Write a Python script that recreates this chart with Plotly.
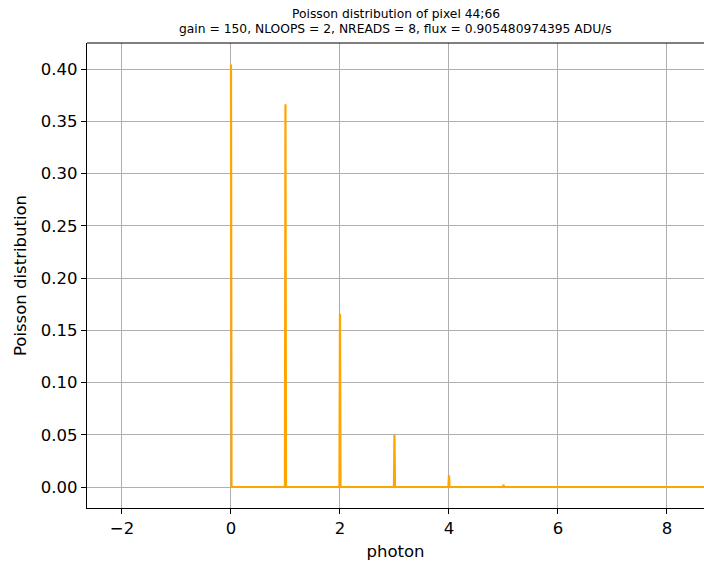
import plotly.graph_objects as go

# Poisson probabilities for each photon count (flux ~ 0.9055 ADU/s)
photons = [0, 1, 2, 3, 4, 5, 6, 7, 8, 9]
probability = [0.4044, 0.3662, 0.1658, 0.0500, 0.0113, 0.0021, 0.0003, 0.00004, 0.0, 0.0]

title_lines = [
    "Poisson distribution of pixel 44;66",
    "gain = 150, NLOOPS = 2, NREADS = 8, flux = 0.905480974395 ADU/s",
]

# Sample on a fine grid: zero everywhere except at integer photon counts
step = 0.01
xs, ys = [], []
for k, p in zip(photons, probability):
    if k > 0:
        xs.append(k - step)
        ys.append(0.0)
    xs.append(k)
    ys.append(p)
    xs.append(k + step)
    ys.append(0.0)

FONT = "DejaVu Sans"

fig = go.Figure()
fig.add_trace(go.Scatter(
    x=xs, y=ys, mode="lines",
    line=dict(color="#FFA500", width=2.2),
    hoverinfo="skip", showlegend=False,
))

axis_common = dict(
    showgrid=True, gridcolor="#b0b0b0", gridwidth=1.1,
    zeroline=False,
    showline=True, linecolor="black", linewidth=1.2,
    ticks="outside", ticklen=5, tickwidth=1.1, tickcolor="black",
    tickfont=dict(family=FONT, size=16.5, color="black"),
    title_font=dict(family=FONT, size=16.5, color="black"),
)

fig.update_layout(
    width=704, height=562,
    margin=dict(l=87, r=0, t=43, b=54),
    paper_bgcolor="white", plot_bgcolor="white",
    font=dict(family=FONT, color="black"),
    xaxis=dict(
        range=[-2.642, 8.68], tickvals=[-2, 0, 2, 4, 6, 8],
        title=dict(text="photon", standoff=8),
        **axis_common,
    ),
    yaxis=dict(
        range=[-0.0201, 0.4249],
        tickvals=[0.0, 0.05, 0.10, 0.15, 0.20, 0.25, 0.30, 0.35, 0.40],
        tickformat=".2f",
        title=dict(text="Poisson distribution", standoff=10),
        **axis_common,
    ),
    shapes=[dict(type="line", xref="paper", yref="paper",
                 x0=0, x1=1, y0=1, y1=1,
                 line=dict(color="black", width=1.2))],
    annotations=[
        dict(text=title_lines[0], xref="paper", yref="paper", x=0.5, y=1,
             yshift=29, showarrow=False, xanchor="center", yanchor="middle",
             font=dict(family=FONT, size=12.3, color="black")),
        dict(text=title_lines[1], xref="paper", yref="paper", x=0.5, y=1,
             yshift=14, showarrow=False, xanchor="center", yanchor="middle",
             font=dict(family=FONT, size=12.3, color="black")),
    ],
)

fig.write_html("out.html")
